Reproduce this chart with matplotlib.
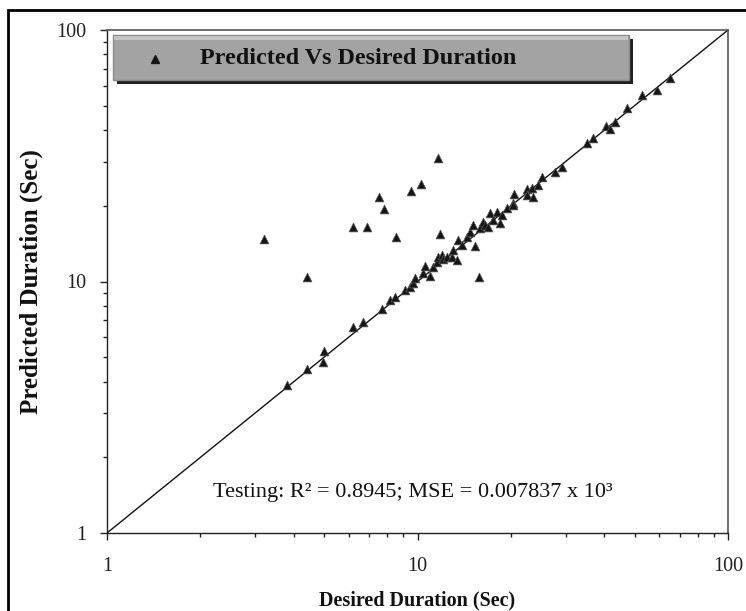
import matplotlib
matplotlib.use('Agg')
import matplotlib.pyplot as plt
from matplotlib.patches import Rectangle
from matplotlib.ticker import LogLocator, FixedLocator, FixedFormatter, NullFormatter

# ---- data ----
desired = [
    11.6, 10.3, 9.5, 7.5, 7.8, 6.2, 6.9, 8.5, 3.2, 4.4, 11.8, 15.8, 15.3,
    3.79, 4.40, 4.97, 4.99, 6.18, 6.69, 7.67, 8.15, 8.46, 9.11, 9.46, 9.69,
    9.82, 10.44, 10.57, 10.97, 11.24, 11.53, 11.67, 11.97, 12.1, 12.42, 12.9,
    13.04, 13.37, 13.53, 13.88, 14.47, 14.76, 15.13, 15.9, 16.29, 16.5, 16.9,
    17.12, 17.55, 18.0, 18.44, 18.67, 19.38, 20.35, 20.35, 20.46, 22.47, 22.47,
    23.33, 23.6, 24.5, 25.1, 27.7, 29.1, 35.1, 36.8, 40.5, 41.7, 43.3, 47.2,
    52.7, 58.9, 65.0,
]
predicted = [
    30.9, 24.4, 22.9, 21.6, 19.4, 16.4, 16.5, 15.0, 14.7, 10.45, 15.4, 10.45, 13.9,
    3.88, 4.49, 4.80, 5.31, 6.61, 6.92, 7.75, 8.44, 8.70, 9.25, 9.54, 9.83,
    10.3, 10.78, 11.5, 10.5, 11.45, 11.99, 12.56, 12.7, 12.25, 12.56, 12.56,
    13.35, 12.18, 14.62, 13.97, 14.99, 15.78, 16.77, 16.27, 17.3, 16.77, 16.43,
    18.67, 17.56, 18.95, 17.03, 18.37, 19.55, 20.46, 20.14, 22.2, 23.26, 22.08,
    23.48, 21.74, 24.2, 26.1, 27.3, 28.6, 35.4, 37.1, 41.5, 40.3, 43.2, 48.8,
    55.1, 57.7, 64.3,
]
ideal_line = [1, 100]
tick_values = [1, 10, 100]
tick_labels = ['1', '10', '100']
legend_label = 'Predicted Vs Desired Duration'
annotation = 'Testing: R\u00b2 = 0.8945; MSE = 0.007837 x 10\u00b3'
x_label = 'Desired Duration (Sec)'
y_label = 'Predicted Duration (Sec)'

plt.rcParams['font.family'] = ['Liberation Serif', 'DejaVu Serif']

W, H = 746, 611
fig = plt.figure(figsize=(W / 100, H / 100), dpi=100)
fig.patch.set_facecolor('white')

# axes in pixel geometry: left 107, right 728, top 30, bottom 533
L, R, T, B = 107, 728, 30, 533
ax = fig.add_axes([L / W, 1 - B / H, (R - L) / W, (B - T) / H])
ax.set_xscale('log')
ax.set_yscale('log')
ax.set_xlim(1, 100)
ax.set_ylim(1, 100)

ax.plot(ideal_line, ideal_line, color='#111111', lw=1.0, zorder=2)
ax.scatter(desired, predicted, marker='^', s=40, c='#151515',
           edgecolors='#555555', linewidths=0.5, zorder=3)

for axis in (ax.xaxis, ax.yaxis):
    axis.set_major_locator(FixedLocator(tick_values))
    axis.set_major_formatter(FixedFormatter(tick_labels))
    axis.set_minor_locator(LogLocator(base=10, subs=range(2, 10)))
    axis.set_minor_formatter(NullFormatter())

ax.tick_params(which='major', direction='out', length=5, width=1.0,
               labelsize=14.5, colors='#222222')
ax.tick_params(which='minor', direction='out', length=3, width=1.0,
               colors='#222222')
ax.tick_params(axis='y', which='major', pad=10)
ax.tick_params(axis='x', which='major', pad=12)
ax.tick_params(top=False, right=False)

for side in ('left', 'bottom'):
    ax.spines[side].set_color('#222222')
    ax.spines[side].set_linewidth(1.0)
for side in ('top', 'right'):
    ax.spines[side].set_color('#555555')
    ax.spines[side].set_linewidth(1.2)

ax.set_xlabel(x_label, fontsize=14.5, fontweight='bold', color='#111111')
ax.set_ylabel(y_label, fontsize=18, fontweight='bold', color='#111111')
ax.xaxis.set_label_coords(0.5, (B - 590) / (B - T))
ax.yaxis.set_label_coords((43 - L) / (R - L), 0.5)

# annotation
ax.text((413 - L) / (R - L), (B - 493) / (B - T), annotation,
        transform=ax.transAxes, ha='center', va='center', fontsize=16,
        color='#111111')

# legend box (drawn as a 3D-looking banner)
def ax_x(px):
    return (px - L) / (R - L)

def ax_y(py):
    return (B - py) / (B - T)

sh = Rectangle((ax_x(117), ax_y(84)), ax_x(633) - ax_x(117), ax_y(39) - ax_y(84),
               transform=ax.transAxes, facecolor='#202020', edgecolor='none',
               zorder=4, clip_on=False)
ax.add_patch(sh)
box = Rectangle((ax_x(113), ax_y(80)), ax_x(629) - ax_x(113), ax_y(35) - ax_y(80),
                transform=ax.transAxes, facecolor='#a3a3a3', edgecolor='#8a8a8a',
                lw=1.0, zorder=5, clip_on=False)
ax.add_patch(box)
hl = Rectangle((ax_x(114), ax_y(40)), ax_x(628) - ax_x(114), ax_y(36) - ax_y(40),
               transform=ax.transAxes, facecolor='#c4c4c4', edgecolor='none',
               zorder=6, clip_on=False)
ax.add_patch(hl)
ax.plot([ax_x(155)], [ax_y(59)], marker='^', ms=5.5, color='#151515',
        transform=ax.transAxes, zorder=7, clip_on=False, linestyle='none')
ax.text(ax_x(200), ax_y(59), legend_label, transform=ax.transAxes,
        fontsize=17.4, fontweight='bold', va='center', ha='left',
        color='#111111', zorder=7)

# outer frame of the figure
frame = Rectangle((8 / W, -0.05), 1.2, 1 - 10 / H + 0.05, transform=fig.transFigure,
                  fill=False, edgecolor='black', lw=2.0)
fig.patches.append(frame)

fig.savefig('out.png', dpi=100)
